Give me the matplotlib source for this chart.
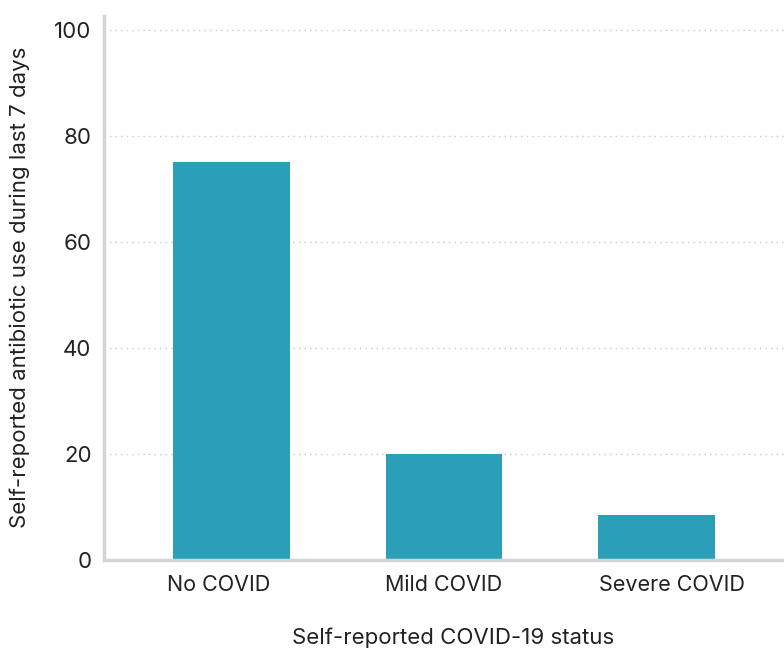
import matplotlib
matplotlib.use("Agg")
import matplotlib.pyplot as plt
from matplotlib.transforms import ScaledTranslation

categories = ["No COVID", "Mild COVID", "Severe COVID"]
values = [75.2, 20.1, 8.5]
yticks = [0, 20, 40, 60, 80, 100]

plt.rcParams['font.family'] = ['Inter', 'DejaVu Sans']

fig = plt.figure(figsize=(7.84, 6.49), dpi=100)
ax = fig.add_axes([104/784, 1 - 560/649, 1 - 104/784, 544/649])

x = range(len(categories))
ax.bar(x, values, width=0.55, color="#2b9fb8", zorder=2)
ax.set_xlim(-0.6, 2.6)
ax.set_ylim(0, 102.7)
ax.set_yticks(yticks)
ax.set_xticks(list(x))
ax.set_xticklabels(categories)
ax.tick_params(axis='y', length=0, labelsize=16, colors="#222222", pad=9)
ax.tick_params(axis='x', length=0, labelsize=15.5, colors="#222222", pad=11)
ax.grid(axis='y', linestyle=(0, (1, 3)), color="#c8c8c8", linewidth=1, zorder=0)
for s in ["top", "right"]:
    ax.spines[s].set_visible(False)
for s in ["left", "bottom"]:
    ax.spines[s].set_color("#d4d4d4")
    ax.spines[s].set_linewidth(2.5)

# label spread slightly wider than the bars, as in the original layout
offsets_px = [-12.5, 0, 15]
for lab, dx in zip(ax.get_xticklabels(), offsets_px):
    lab.set_transform(lab.get_transform() + ScaledTranslation(dx / 100, 0, fig.dpi_scale_trans))

fig.text(453/784, 1 - 638/649, "Self-reported COVID-19 status", fontsize=16,
         color="#222222", ha="center", va="center")
fig.text(20/784, 1 - 287/649, "Self-reported antibiotic use during last 7 days", fontsize=16,
         color="#222222", ha="center", va="center", rotation=90)

fig.savefig("out.png", dpi=100)
